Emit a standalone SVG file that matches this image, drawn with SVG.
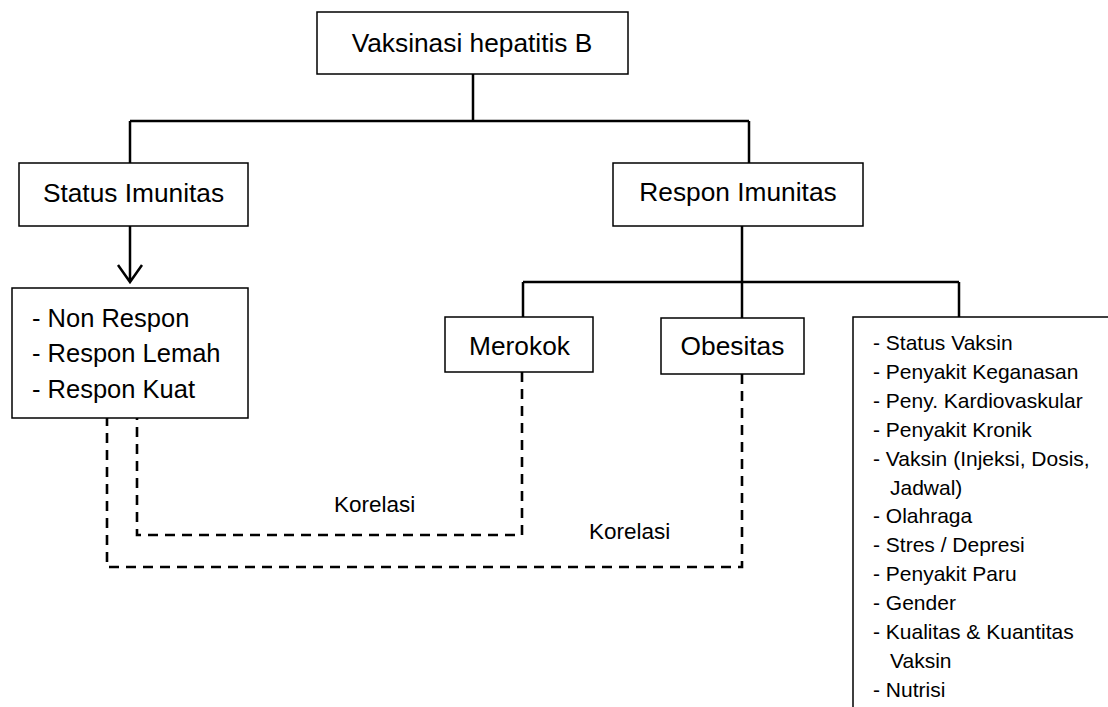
<svg xmlns="http://www.w3.org/2000/svg" width="1108" height="707" viewBox="0 0 1108 707">
<style>
.box{fill:#fff;stroke:#000;stroke-width:1.5}
.conn{fill:none;stroke:#000;stroke-width:2.5}
.dash{fill:none;stroke:#000;stroke-width:2.6;stroke-dasharray:10,7}
.t{font-family:"Liberation Sans",Arial,sans-serif;font-size:26.3px;fill:#000}
.c{text-anchor:middle}
.l{font-family:"Liberation Sans",Arial,sans-serif;font-size:25.5px;fill:#000}
.s{font-family:"Liberation Sans",Arial,sans-serif;font-size:21px;fill:#000}
.k{font-family:"Liberation Sans",Arial,sans-serif;font-size:22.5px;fill:#000}
</style>
<g id="connectors">
<path class="conn" d="M473 74V121M130 121H749M130 121V163M749 121V163"/>
<path class="conn" d="M742 226V282M523 282H959M523 282V317M742 282V318M959 282V317"/>
<path class="conn" d="M130 226V282M118 265L130 282L142 265"/>
<path class="dash" d="M522 372V535H137V418"/>
<path class="dash" d="M742 374V567H107V418"/>
<text class="k" x="334" y="512">Korelasi</text>
<text class="k" x="589" y="539">Korelasi</text>
</g>
<g id="node-vaksinasi">
<rect class="box" x="317" y="12" width="311" height="62"/>
<text class="t c" x="472" y="52">Vaksinasi hepatitis B</text>
</g>
<g id="node-status">
<rect class="box" x="19" y="163" width="229" height="63"/>
<text class="t c" x="133.5" y="202">Status Imunitas</text>
</g>
<g id="node-respon">
<rect class="box" x="613" y="163" width="250" height="63"/>
<text class="t c" x="738" y="201">Respon Imunitas</text>
</g>
<g id="node-status-list">
<rect class="box" x="12" y="288" width="236" height="130"/>
<text class="l" x="32" y="327">- Non Respon</text>
<text class="l" x="32" y="362">- Respon Lemah</text>
<text class="l" x="32" y="398">- Respon Kuat</text>
</g>
<g id="node-merokok">
<rect class="box" x="445" y="317" width="148" height="55"/>
<text class="t c" x="519.5" y="355">Merokok</text>
</g>
<g id="node-obesitas">
<rect class="box" x="661" y="318" width="143" height="56"/>
<text class="t c" x="732.5" y="355">Obesitas</text>
</g>
<g id="node-faktor">
<path fill="none" stroke="#000" stroke-width="1.5" d="M1108 317H853V707"/>
<text class="s" x="873" y="350">- Status Vaksin</text>
<text class="s" x="873" y="379">- Penyakit Keganasan</text>
<text class="s" x="873" y="408">- Peny. Kardiovaskular</text>
<text class="s" x="873" y="437">- Penyakit Kronik</text>
<text class="s" x="873" y="466">- Vaksin (Injeksi, Dosis,</text>
<text class="s" x="890" y="495">Jadwal)</text>
<text class="s" x="873" y="523">- Olahraga</text>
<text class="s" x="873" y="552">- Stres / Depresi</text>
<text class="s" x="873" y="581">- Penyakit Paru</text>
<text class="s" x="873" y="610">- Gender</text>
<text class="s" x="873" y="639">- Kualitas &amp; Kuantitas</text>
<text class="s" x="890" y="668">Vaksin</text>
<text class="s" x="873" y="697">- Nutrisi</text>
</g>
</svg>
